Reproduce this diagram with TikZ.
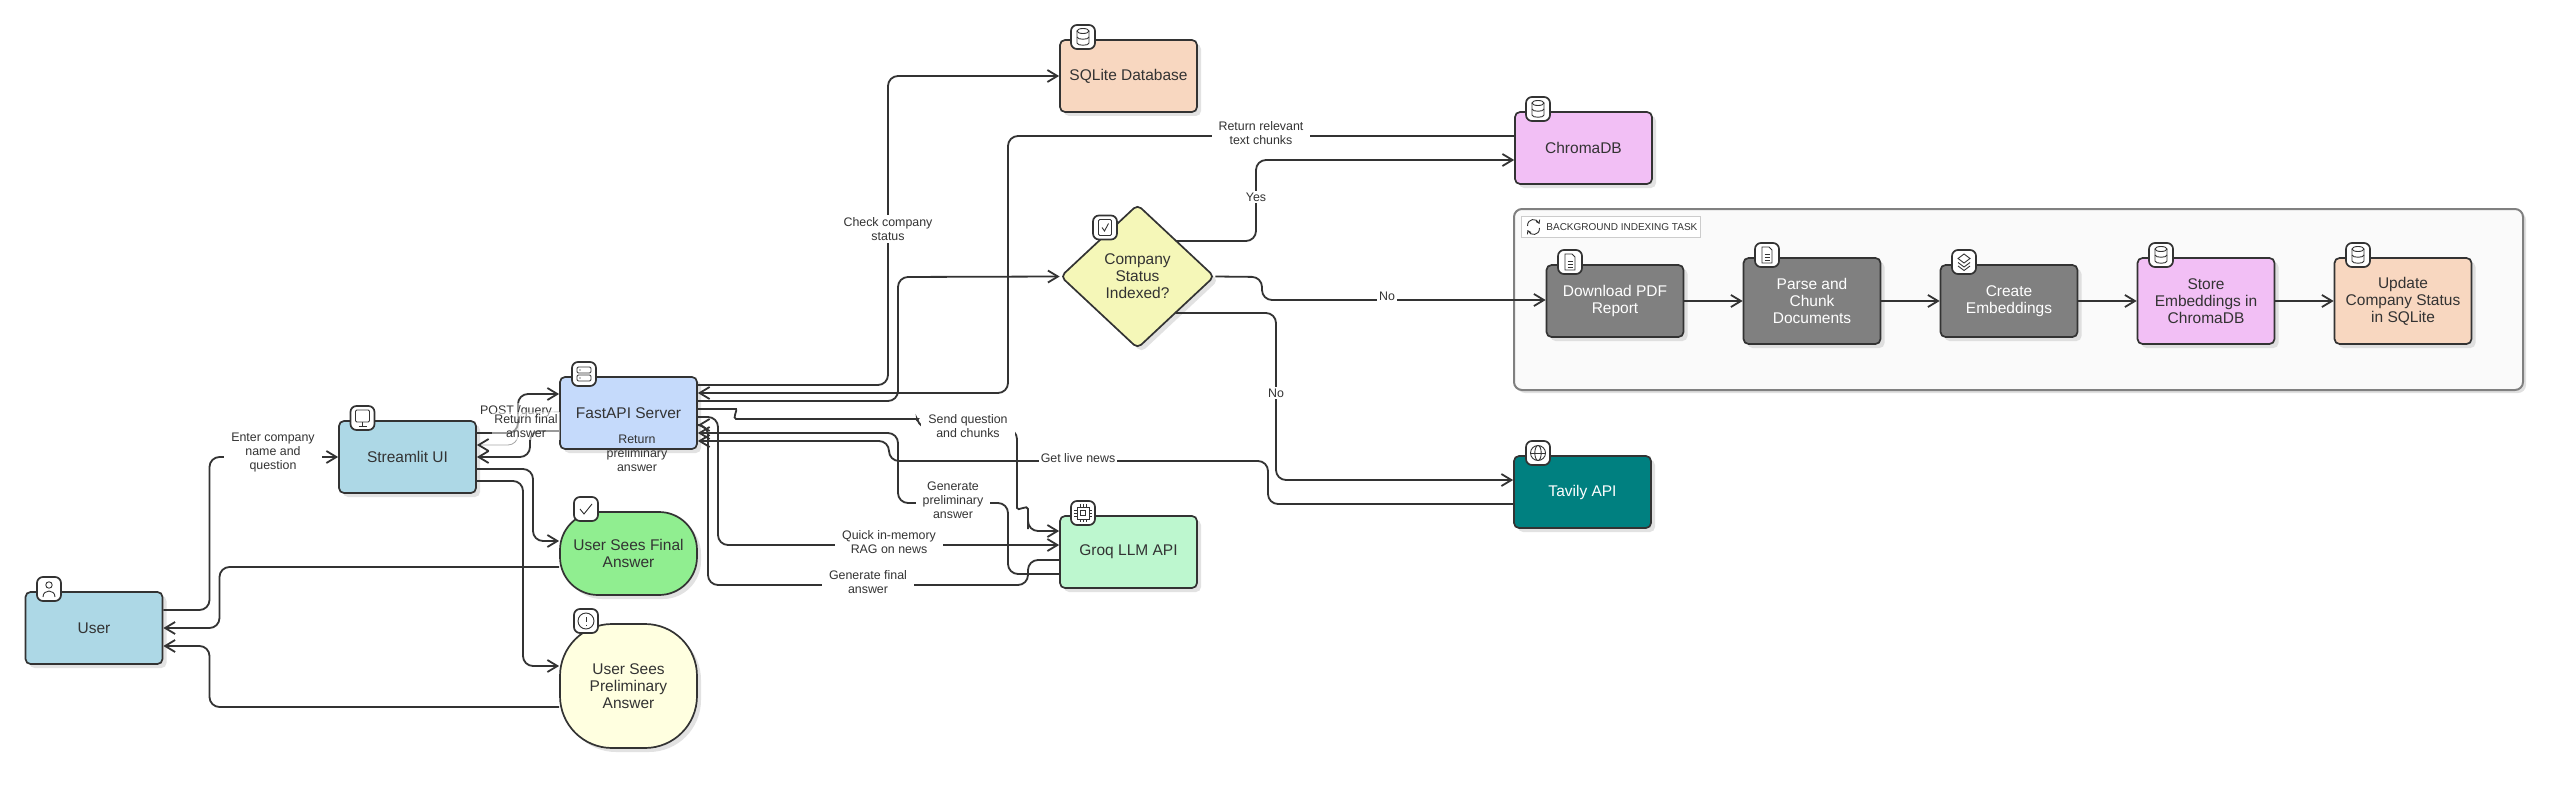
\documentclass[tikz,border=0pt]{standalone}
\usepackage{fontspec}
\setmainfont{Liberation Sans}
\usetikzlibrary{arrows.meta,shapes.geometric,shadows,calc}

\definecolor{inkcol}{HTML}{333333}
\definecolor{userblue}{HTML}{ADD8E6}
\definecolor{apiblue}{HTML}{C5DAFB}
\definecolor{finalgreen}{HTML}{90EE90}
\definecolor{prelimyellow}{HTML}{FFFFE0}
\definecolor{sqlorange}{HTML}{F8D7C0}
\definecolor{chromapink}{HTML}{F2BFF5}
\definecolor{checkyellow}{HTML}{F5F7B8}
\definecolor{groqgreen}{HTML}{BDF7CF}
\definecolor{tavilyteal}{HTML}{008080}
\definecolor{taskgray}{HTML}{808080}

\tikzset{
  iconperson/.pic={\draw (0,-4) circle (3.2); \draw (-6,8) .. controls (-6,0) and (6,0) .. (6,8);},
  iconscreen/.pic={\draw[rounded corners=.6pt] (-7,-8) rectangle (7,4); \draw (0,4) -- (0,8) (-4,8) -- (4,8);},
  iconserver/.pic={\draw[rounded corners=.6pt] (-7,-7) rectangle (7,-1) (-7,1) rectangle (7,7);
    \fill (-4,-4) circle (.6) (-4,4) circle (.6);},
  icontick/.pic={\draw (-6,0) -- (-2,5) -- (6,-5);},
  iconalert/.pic={\draw (0,0) circle (8); \draw (0,-4) -- (0,1) (0,3.5) -- (0,4.5);},
  iconbase/.pic={\draw (0,-6) ellipse (6 and 2.5);
    \draw (-6,-6) -- (-6,6) .. controls (-6,9) and (6,9) .. (6,6) -- (6,-6);
    \draw (-6,0) .. controls (-6,3) and (6,3) .. (6,0);},
  iconchip/.pic={\draw (-6,-6) rectangle (6,6) (-2.5,-2.5) rectangle (2.5,2.5);
    \foreach \p in {-3,0,3} {\draw (\p,-9) -- (\p,-6) (\p,6) -- (\p,9) (-9,\p) -- (-6,\p) (6,\p) -- (9,\p);}},
  iconglobe/.pic={\draw (0,0) circle (7.5) (0,0) ellipse (3.2 and 7.5); \draw (-7.5,0) -- (7.5,0);},
  iconpage/.pic={\draw (-5,-8) -- (2,-8) -- (5,-5) -- (5,8) -- (-5,8) -- cycle;
    \draw (-2.5,-1) -- (2.5,-1) (-2.5,2) -- (2.5,2) (-2.5,5) -- (2.5,5);},
  iconstack/.pic={\draw (0,-8) -- (6,-3.5) -- (0,1) -- (-6,-3.5) -- cycle;
    \draw (-6,0.5) -- (0,5) -- (6,0.5) (-6,4) -- (0,8.5) -- (6,4);},
  iconsquare/.pic={\draw[rounded corners=.6pt] (-6.5,-8) rectangle (6.5,8); \draw (-3,0) -- (-.5,3.5) -- (3.5,-4);},
  iconsync/.pic={\draw[-{Straight Barb[length=1.5pt,width=2pt]}] (-6,-1) .. controls (-6,-9) and (3,-9) .. (6,-3);
    \draw[-{Straight Barb[length=1.5pt,width=2pt]}] (6,1) .. controls (6,9) and (-3,9) .. (-6,3);}
}

\begin{document}
\begin{tikzpicture}[x=.5pt, y=-.5pt, >={Straight Barb[length=5pt,width=6pt]},
  flowbox/.style={draw=inkcol, line width=.85pt, rounded corners=2.5pt, inner sep=0pt, align=center,
    minimum width=68.5pt, minimum height=36pt, text=inkcol,
    font=\fontsize{7.75}{8.5}\selectfont,
    drop shadow={shadow xshift=2pt, shadow yshift=-2pt, fill=black!25, opacity=.45}},
  tallbox/.style={flowbox, minimum height=43pt},
  taskbox/.style={flowbox, fill=taskgray, text=white},
  wire/.style={->, draw=inkcol, line width=.9pt, rounded corners=5pt},
  faintwire/.style={draw=black!35, line width=.4pt, rounded corners=5pt,
    -{Straight Barb[length=5pt,width=6pt,color=inkcol,line width=.9pt]}},
  flowlabel/.style={fill=white, inner sep=1pt, align=center, text=inkcol,
    font=\fontsize{6.2}{7}\selectfont},
  widelabel/.style={flowlabel, inner xsep=3.5pt},
  overlabel/.style={flowlabel, fill opacity=.5, text opacity=1},
  iconbox/.style={draw=inkcol, line width=.85pt, fill=white, rounded corners=3pt, inner sep=0pt,
    minimum width=12pt, minimum height=12pt},
  icondraw/.style={draw=inkcol, line width=.45pt}
  ]
  \useasboundingbox (0,0) rectangle (2549,808);

  % background task frame
  \node [draw=black!50, line width=1pt, fill=black!2, rounded corners=4pt, minimum width=504.5pt, minimum height=90.5pt,
    drop shadow={shadow xshift=1.5pt, shadow yshift=-1.5pt, fill=black!30, opacity=.4}] (taskframe) at (2018.5,299.5) {};
  \node [draw=black!20, line width=.5pt, fill=white, minimum width=89.5pt, minimum height=10.5pt, inner sep=0pt] (tasktitle) at (1610.5,226.5) {};
  \node [inner sep=0pt, text=inkcol, font=\fontsize{5}{6}\selectfont, anchor=west] (tasktext) at (1546,227) {BACKGROUND INDEXING TASK};

  % main boxes
  \node [flowbox, fill=userblue] (user) at (94,628) {User};
  \node [flowbox, fill=userblue] (streamlit) at (407.5,457) {Streamlit UI};
  \node [flowbox, fill=apiblue] (fastapi) at (628.5,413) {FastAPI Server};
  \node [flowbox, fill=finalgreen, minimum height=41.5pt, rounded corners=19pt] (final) at (628.5,553.5) {User Sees Final\\Answer};
  \node [flowbox, fill=prelimyellow, minimum height=62pt, rounded corners=26pt] (prelim) at (628.5,686) {User Sees\\Preliminary\\Answer};
  \node [flowbox, fill=sqlorange] (sqlite) at (1128.5,76) {SQLite Database};
  \node [flowbox, fill=chromapink] (chroma) at (1583.5,148) {ChromaDB};
  \node [flowbox, diamond, fill=checkyellow, minimum width=77pt, minimum height=72pt, aspect=1.07] (status) at (1137.5,276.5) {Company\\Status\\Indexed?};
  \node [flowbox, fill=groqgreen] (groq) at (1128.5,552) {Groq LLM API};
  \node [flowbox, fill=tavilyteal, text=white] (tavily) at (1582.5,492) {Tavily API};

  % indexing steps
  \node [taskbox] (download) at (1615,301) {Download PDF\\Report};
  \node [taskbox, minimum height=43pt] (parse) at (1812,301) {Parse and\\Chunk\\Documents};
  \node [taskbox] (embed) at (2009,301) {Create\\Embeddings};
  \node [tallbox, fill=chromapink] (store) at (2206,301) {Store\\Embeddings in\\ChromaDB};
  \node [tallbox, fill=sqlorange] (update) at (2403,301) {Update\\Company Status\\in SQLite};

  % connectors
  \draw [faintwire] (fastapi.west |- 0,412) -- (518,412) -- (518,445) -- (streamlit.east |- 0,445);
  \draw [wire] (user.east |- 0,610) -- (209.5,610) -- (209.5,457) -- (streamlit.west |- 0,457);
  \draw [wire] (final.west |- 0,567) -- (219.5,567) -- (219.5,628) -- (user.east |- 0,628);
  \draw [wire] (prelim.west |- 0,707) -- (209.5,707) -- (209.5,646) -- (user.east |- 0,646);
  \draw [wire] (streamlit.east |- 0,433) -- (518,433) -- (518,394) -- (fastapi.west |- 0,394);
  \draw [wire] (fastapi.west |- 0,431) -- (530,431) -- (530,457) -- (streamlit.east |- 0,457);
  \draw [wire] (streamlit.east |- 0,469) -- (533,469) -- (533,541) -- (final.west |- 0,541);
  \draw [wire] (streamlit.east |- 0,481) -- (523,481) -- (523,666) -- (prelim.west |- 0,666);
  \draw [wire] (fastapi.east |- 0,385) -- (888,385) -- (888,76) -- (sqlite.west);
  \draw [wire] (chroma.west |- 0,136) -- (1008,136) -- (1008,393) -- (fastapi.east |- 0,393);
  \draw [wire] (fastapi.east |- 0,401) -- (898,401) -- (898,277) -- (status.west);
  \draw [wire] (1176,241) -- (1256,241) -- (1256,160) -- (chroma.west |- 0,160);
  \draw [wire] (status.east) -- (1262,277) -- (1262,300) -- (download.west |- 0,300);
  \draw [wire] (1176,313) -- (1276,313) -- (1276,480) -- (tavily.west |- 0,480);
  \draw [wire] (tavily.west |- 0,504) -- (1268,504) -- (1268,461) -- (889,461) -- (889,441) -- (fastapi.east |- 0,441);
  \draw [wire] (fastapi.east |- 0,409) -- (726,409) .. controls (738,409) and (732,419) .. (746,419) -- (908,419) .. controls (916,419) and (918,422) .. (920,429) -- (1017,429) -- (1017,498) .. controls (1017,512) and (1028,504) .. (1028,519) -- (1028,531) -- (groq.west |- 0,531);
  \draw [wire] (fastapi.east |- 0,417) -- (718,417) -- (718,545) -- (groq.west |- 0,545);
  \draw [wire] (groq.west |- 0,560) -- (1028,560) -- (1028,585) -- (708,585) -- (708,425) -- (fastapi.east |- 0,425);
  \draw [wire] (groq.west |- 0,574) -- (1008,574) -- (1008,503) -- (898,503) -- (898,433) -- (fastapi.east |- 0,433);
  \draw [wire] (download) -- (parse);
  \draw [wire] (parse) -- (embed);
  \draw [wire] (embed) -- (store);
  \draw [wire] (store) -- (update);

  % connector labels
  \node [widelabel] (enterlabel) at (273,453) {Enter company\\name and\\question};
  \node [overlabel] (postlabel) at (516,411) {POST /query};
  \node [overlabel] (finallabel) at (526,426) {Return final\\answer};
  \node [flowlabel, fill=none] (preliminarylabel) at (637,453) {Return\\preliminary\\answer};
  \node [widelabel] (checklabel) at (888,229) {Check company\\status};
  \node [widelabel] (chunkslabel) at (1261,133) {Return relevant\\text chunks};
  \node [flowlabel] (yeslabel) at (1256,197) {Yes};
  \node [flowlabel] (nolabel) at (1387,296) {No};
  \node [flowlabel] (skiplabel) at (1276,393) {No};
  \node [widelabel] (sendlabel) at (968,426) {Send question\\and chunks};
  \node [flowlabel] (newslabel) at (1078,458) {Get live news};
  \node [widelabel] (generatelabel) at (953,500) {Generate\\preliminary\\answer};
  \node [widelabel] (raglabel) at (889,542) {Quick in-memory\\RAG on news};
  \node [widelabel] (answerlabel) at (868,582) {Generate final\\answer};

  % icon badges
  \node [iconbox] (usericon) at (49,589) {};
  \pic [icondraw] at (usericon) {iconperson};
  \node [iconbox] (streamliticon) at (362.5,418) {};
  \pic [icondraw] at (streamliticon) {iconscreen};
  \node [iconbox] (fastapiicon) at (584,374) {};
  \pic [icondraw] at (fastapiicon) {iconserver};
  \node [iconbox] (finalicon) at (586,509) {};
  \pic [icondraw] at (finalicon) {icontick};
  \node [iconbox] (prelimicon) at (586,621) {};
  \pic [icondraw] at (prelimicon) {iconalert};
  \node [iconbox] (sqliteicon) at (1083,37) {};
  \pic [icondraw] at (sqliteicon) {iconbase};
  \node [iconbox] (chromaicon) at (1538,109) {};
  \pic [icondraw] at (chromaicon) {iconbase};
  \node [iconbox] (statusicon) at (1105,227.5) {};
  \pic [icondraw] at (statusicon) {iconsquare};
  \node [iconbox] (groqicon) at (1083,513) {};
  \pic [icondraw] at (groqicon) {iconchip};
  \node [iconbox] (tavilyicon) at (1538,453) {};
  \pic [icondraw] at (tavilyicon) {iconglobe};
  \node [iconbox] (downloadicon) at (1570,262) {};
  \pic [icondraw] at (downloadicon) {iconpage};
  \node [iconbox] (parseicon) at (1767,255) {};
  \pic [icondraw] at (parseicon) {iconpage};
  \node [iconbox] (embedicon) at (1964,262) {};
  \pic [icondraw] at (embedicon) {iconstack};
  \node [iconbox] (storeicon) at (2161,255) {};
  \pic [icondraw] at (storeicon) {iconbase};
  \node [iconbox] (updateicon) at (2358,255) {};
  \pic [icondraw] at (updateicon) {iconbase};
  \pic [icondraw] at (1533.5,227) {iconsync};
\end{tikzpicture}
\end{document}
